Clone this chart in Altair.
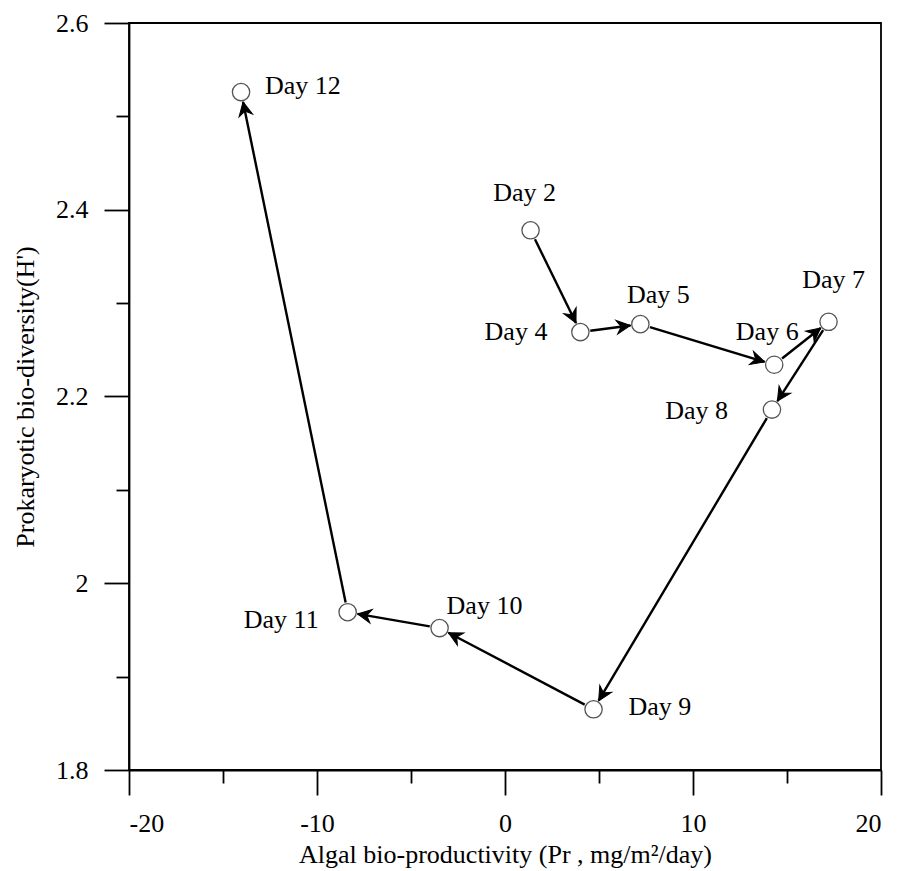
import math
import altair as alt
import pandas as pd

# ---- data ----
days = ["Day 2", "Day 4", "Day 5", "Day 6", "Day 7", "Day 8", "Day 9", "Day 10", "Day 11", "Day 12"]
productivity = [1.36, 4.01, 7.20, 14.32, 17.21, 14.20, 4.71, -3.48, -8.37, -14.04]
diversity = [2.378, 2.269, 2.2775, 2.234, 2.280, 2.186, 1.865, 1.952, 1.969, 2.526]

x_ticks = [-20, -15, -10, -5, 0, 5, 10, 15, 20]
y_ticks = [1.8, 1.9, 2.0, 2.1, 2.2, 2.3, 2.4, 2.5, 2.6]

# ---- layout / style ----
W, H = 752, 747
X_DOM = [-20, 20]
Y_DOM = [1.8, 2.6]
FONT = "Liberation Serif"
FS = 26
GAP = 10  # px gap between arrow and marker centre

# label placement (style): dx, dy, align
label_style = {
    "Day 2": (-6, -37, "center"),
    "Day 4": (-33, 0, "right"),
    "Day 5": (18, -29, "center"),
    "Day 6": (-7, -33, "center"),
    "Day 7": (5, -42, "center"),
    "Day 8": (-44, 1, "right"),
    "Day 9": (35, -2, "left"),
    "Day 10": (7, -22, "left"),
    "Day 11": (-29, 8, "right"),
    "Day 12": (24, -6, "left"),
}

pts = pd.DataFrame({"day": days, "x": productivity, "y": diversity})

sx = W / (X_DOM[1] - X_DOM[0])
sy = H / (Y_DOM[1] - Y_DOM[0])
rows = []
for i in range(len(days) - 1):
    x1, y1 = productivity[i], diversity[i]
    x2, y2 = productivity[i + 1], diversity[i + 1]
    dxp = (x2 - x1) * sx
    dyp = -(y2 - y1) * sy
    L = math.hypot(dxp, dyp)
    ux, uy = dxp / L, dyp / L
    rows.append({
        "x": x1 + GAP * ux / sx,
        "y": y1 - GAP * uy / sy,
        "x2": x2 - GAP * ux / sx,
        "y2": y2 + GAP * uy / sy,
        "angle": math.degrees(math.atan2(dyp, dxp)) % 360,
    })
segs = pd.DataFrame(rows)

xs = alt.Scale(domain=X_DOM, nice=False, zero=False)
ys = alt.Scale(domain=Y_DOM, nice=False, zero=False)

x_axis = alt.Axis(
    values=x_ticks,
    labelExpr="datum.value % 10 === 0 ? '' + datum.value : ''",
    tickSize={"condition": {"test": "datum.value % 10 === 0", "value": 25}, "value": 13},
    labelPadding=15,
    title="Algal bio-productivity (Pr , mg/m²/day)",
    titlePadding=5,
)
y_major = "abs(datum.value * 5 - round(datum.value * 5)) < 0.000001"
y_axis = alt.Axis(
    values=y_ticks,
    labelExpr=f"{y_major} ? '' + round(datum.value * 10) / 10 : ''",
    tickSize={"condition": {"test": y_major, "value": 25}, "value": 13},
    labelPadding=16,
    title="Prokaryotic bio-diversity(H')",
    titlePadding=17,
)

X = alt.X("x:Q", scale=xs, axis=x_axis)
Y = alt.Y("y:Q", scale=ys, axis=y_axis)

lines = alt.Chart(segs).mark_rule(color="black", strokeWidth=2.4, strokeCap="butt").encode(
    x=X, y=Y, x2="x2:Q", y2="y2:Q"
)

heads = alt.Chart(segs).mark_point(
    shape="M0,0L-1,-0.5L-0.68,0L-1,0.5Z",
    filled=True,
    fill="black",
    stroke="black",
    strokeWidth=1,
    size=760,
    strokeJoin="miter",
    opacity=1,
).encode(
    x=alt.X("x2:Q", scale=xs, axis=x_axis),
    y=alt.Y("y2:Q", scale=ys, axis=y_axis),
    angle=alt.Angle("angle:Q", scale=None),
)

circles = alt.Chart(pts).mark_point(
    shape="circle", filled=True, fill="white", stroke="#555555", strokeWidth=1.3, size=300, opacity=1
).encode(x=X, y=Y)

texts = []
for d in days:
    dx, dy, al = label_style[d]
    texts.append(
        alt.Chart(pts).transform_filter(alt.datum.day == d).mark_text(
            font=FONT, fontSize=FS, color="black", dx=dx, dy=dy, align=al, baseline="middle"
        ).encode(x=X, y=Y, text="day:N")
    )

chart = alt.layer(lines, heads, circles, *texts).properties(
    width=W,
    height=H,
    padding={"left": 121, "top": 15, "right": 10, "bottom": 100},
    autosize=alt.AutoSizeParams(type="none"),
).configure_view(
    stroke="black", strokeWidth=1.8
).configure_axis(
    grid=False,
    domainColor="black",
    domainWidth=1.8,
    tickColor="black",
    tickWidth=1.8,
    labelFont=FONT,
    labelFontSize=FS,
    labelColor="black",
    titleFont=FONT,
    titleFontSize=FS,
    titleFontWeight="normal",
    titleColor="black",
)

chart.save("out.html", embed_options={"renderer": "svg", "actions": False})
